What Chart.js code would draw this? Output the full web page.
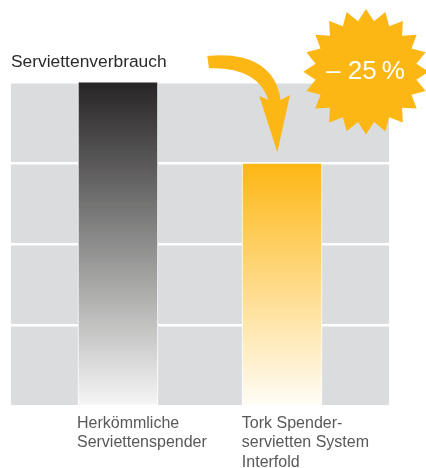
<!DOCTYPE html>
<html><head><meta charset="utf-8">
<style>html,body{margin:0;padding:0;background:#fff}#w{width:426px;height:468px}</style>
<script src="https://cdn.jsdelivr.net/npm/chart.js@4"></script>
</head><body><div id="w"><canvas id="c"></canvas></div>
<script>
const categories=[["Herkömmliche","Serviettenspender"],["Tork Spender-","servietten System","Interfold"]];
const seriesValues=[100,75];
const barPositions=[1,2];
const labelTickPositions=[0.75,1.755];
const yTicks=[0,25,50,75,100];
const gradients=[["#262424","#f5f6f5"],["#fdb714","#fffdf8"]];
const titleText="Serviettenverbrauch";
const badgeText="– 25\u2009%";
const orange="#fdb714";

const deco={id:'deco',
 beforeDraw(ch){const a=ch.chartArea,x=ch.ctx;x.save();x.fillStyle='#dbdcde';x.fillRect(a.left,a.top,a.width,a.height);x.restore();},
 afterDraw(ch){const x=ch.ctx;x.save();x.fillStyle=orange;
  x.beginPath();x.moveTo(207.3,56);x.bezierCurveTo(245,52,276,64,280.7,100);x.lineTo(290,95);x.lineTo(277.3,152.3);x.lineTo(259.3,96);x.lineTo(268.3,100);x.bezierCurveTo(262,78,240,67,209,68.3);x.closePath();x.fill();
  const cx=366,cy=71.7,n=20;x.beginPath();for(let i=0;i<2*n;i++){const r=i%2?51:62.7,t=-Math.PI/2+i*Math.PI/n;const px=cx+r*Math.cos(t),py=cy+r*Math.sin(t);i?x.lineTo(px,py):x.moveTo(px,py);}x.closePath();x.fill();
  x.fillStyle='#fff';x.font='26px "Liberation Sans"';x.textAlign='center';x.textBaseline='middle';x.fillText(badgeText,365.5,72);x.restore();}
};
new Chart(document.getElementById('c'),{type:'bar',
 data:{datasets:[{data:barPositions.map((p,i)=>({x:p,y:seriesValues[i]})),barThickness:80,borderColor:'#fff',borderWidth:1,borderSkipped:false,
  backgroundColor(c){const a=c.chart.chartArea;if(!a||c.dataIndex===undefined)return '#888';const el=c.chart.scales.y;const g=c.chart.ctx.createLinearGradient(0,el.getPixelForValue(seriesValues[c.dataIndex]),0,a.bottom);const s=gradients[c.dataIndex];g.addColorStop(0,s[0]);g.addColorStop(1,s[1]);return g;}}]},
 options:{responsive:true,maintainAspectRatio:false,animation:false,
  layout:{padding:{left:11,right:37,top:0,bottom:-11}},
  plugins:{legend:{display:false},tooltip:{enabled:false},
   title:{display:true,text:titleText,align:'start',color:'#2b2a29',font:{family:'"Liberation Sans"',size:17.4,weight:'normal',lineHeight:1.2},padding:{top:52,bottom:9}}},
  scales:{
   x:{type:'linear',min:0.348,max:2.652,offset:false,border:{display:false},grid:{display:false,drawTicks:false},
     afterBuildTicks(s){s.ticks=labelTickPositions.map(v=>({value:v}));},
     ticks:{autoSkip:false,maxRotation:0,minRotation:0,align:'start',padding:7,color:'#58585a',font:{family:'"Liberation Sans"',size:16,lineHeight:1.22},
       callback(v,i){return categories[i];}}},
   y:{min:0,max:100,border:{display:false},grid:{color:'#fff',lineWidth:2.6,drawTicks:false},
     afterBuildTicks(s){s.ticks=yTicks.map(v=>({value:v}));},
     ticks:{display:false}}}},
 plugins:[deco]});
</script></body></html>
